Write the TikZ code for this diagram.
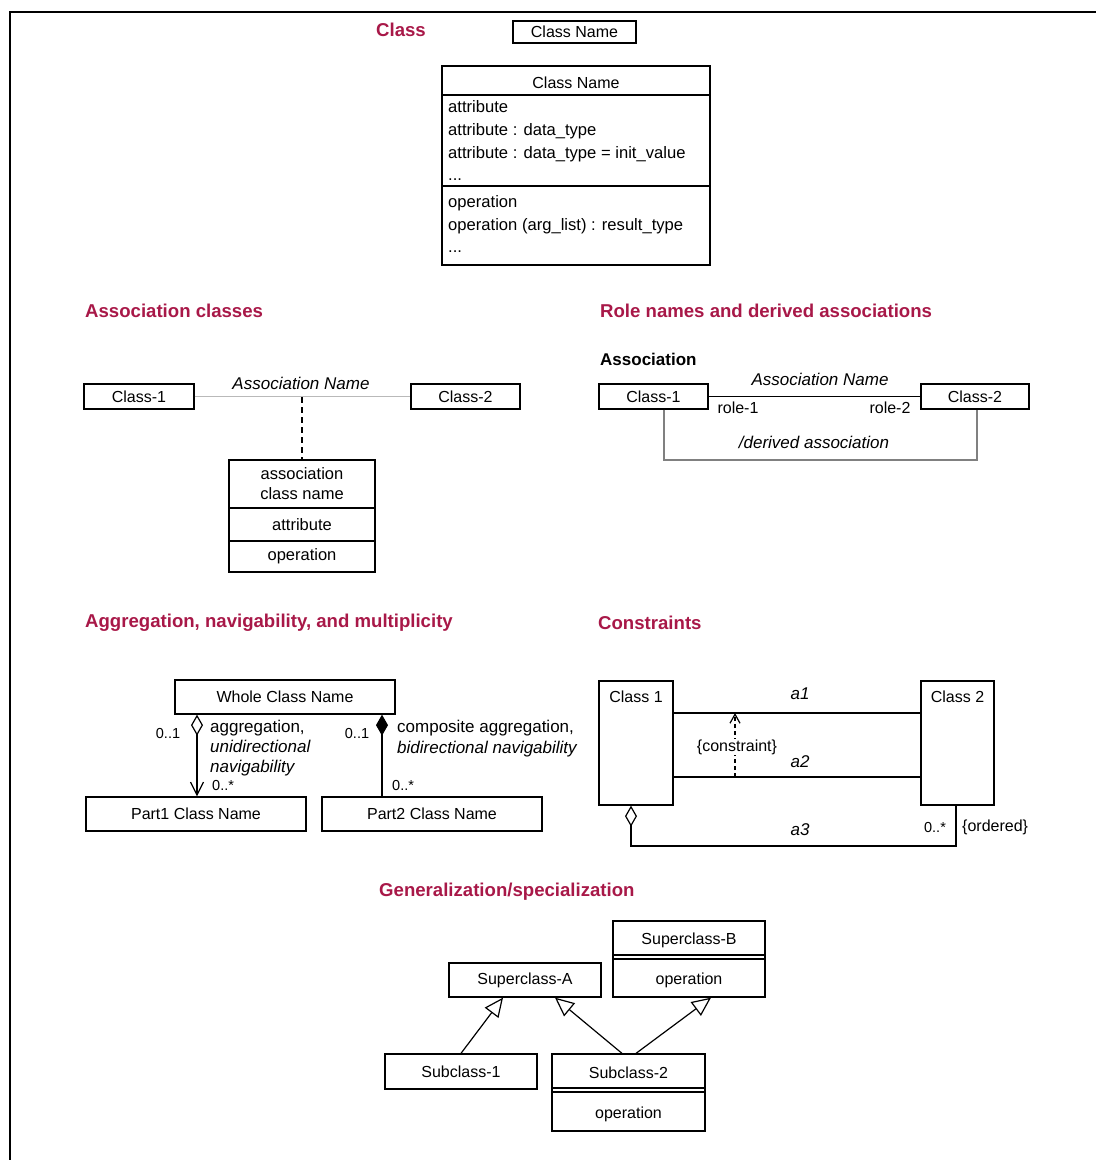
\documentclass[tikz,border=0pt]{standalone}
\usepackage{fontspec}
\setmainfont{Liberation Sans}
\usetikzlibrary{arrows.meta}
\definecolor{titlered}{RGB}{168,24,72}

\begin{document}
\begin{tikzpicture}[x=1pt,y=-1pt,
  font=\fontsize{16}{19}\selectfont,
  box/.style={draw,line width=1.3pt,inner sep=0pt},
  heading/.style={anchor=west,inner sep=0pt,text=titlered,font=\fontsize{18.6}{21}\selectfont\bfseries},
  lbl/.style={inner sep=0pt},
  itl/.style={inner sep=0pt,font=\fontsize{17}{20}\selectfont\itshape},
  mult/.style={inner sep=0pt,font=\fontsize{14.5}{17}\selectfont},
  conn/.style={line width=1.2pt},
  gen/.style={conn,-{Triangle[open,length=19pt,width=17pt]}}]
\useasboundingbox (0,0) rectangle (1096,1160);
\draw[line width=2.5pt] (10,1160) -- (10,12) -- (1096,12);

% class
\node[heading] (tClass) at (376,30) {Class};
\node[box,minimum width=123pt,minimum height=22pt] (cn) at (574.5,32) {Class Name};
\node[box,minimum width=268pt,minimum height=199pt] (full) at (576,165.5) {};
\node[lbl] (fullname) at (576,83) {Class Name};
\draw[conn] (full.west |- 0,95) -- (full.east |- 0,95);
\draw[conn] (full.west |- 0,186) -- (full.east |- 0,186);
\foreach \y/\txt in {112/attribute,135/{attribute : data\_type},158/{attribute : data\_type = init\_value},180/{...},
                      207/operation,230/{operation (arg\_list) : result\_type},252/{...}}
  \node[lbl,anchor=base west,font=\fontsize{16.6}{19}\selectfont] (row\y) at (448,\y) {\txt};

% association classes
\node[heading] (tAssoc) at (85,311) {Association classes};
\node[box,minimum width=110pt,minimum height=25pt] (c1) at (139,396.5) {Class-1};
\node[box,minimum width=109pt,minimum height=25pt] (c2) at (465.5,396.5) {Class-2};
\draw[line width=1.8pt,gray!55] (c1) -- (c2);
\node[itl] (aname) at (301,383) {Association Name};
\coordinate (amid) at (302,397);
\node[box,minimum width=146pt,minimum height=112pt] (acls) at (302,516) {};
\draw[conn,dash pattern=on 6pt off 4pt] (amid) -- (acls.north);
\draw[conn] (acls.west |- 0,508) -- (acls.east |- 0,508);
\draw[conn] (acls.west |- 0,541) -- (acls.east |- 0,541);
\node[lbl,align=center,font=\fontsize{16.5}{20}\selectfont] (aclsname) at (302,484) {association\\class name};
\node[lbl,font=\fontsize{16.5}{20}\selectfont] (aclsattr) at (302,525) {attribute};
\node[lbl,font=\fontsize{16.5}{20}\selectfont] (aclsop) at (302,556) {operation};

% role names
\node[heading] (tRole) at (600,311) {Role names and derived associations};
\node[anchor=west,inner sep=0pt,font=\fontsize{17}{20}\selectfont\bfseries] (tAssocB) at (600,359) {Association};
\node[box,minimum width=109pt,minimum height=25pt] (r1) at (653.5,396.5) {Class-1};
\node[box,minimum width=108pt,minimum height=25pt] (r2) at (975,396.5) {Class-2};
\draw[conn] (r1) -- (r2);
\node[itl] (rname) at (820,379) {Association Name};
\node[lbl] (role1) at (738,408) {role-1};
\node[lbl] (role2) at (890,408) {role-2};
\coordinate (d1) at (664,460);
\coordinate (d2) at (977,460);
\draw[conn,gray] (r1.south -| d1) -- (d1) -- (d2) -- (r2.south -| d2);
\node[itl] (dname) at (814,442) {/derived association};

% aggregation
\node[heading] (tAggr) at (85,623) {Aggregation, navigability, and multiplicity};
\node[box,minimum width=220pt,minimum height=34pt] (whole) at (285,697) {Whole Class Name};
\node[box,minimum width=220pt,minimum height=34pt] (part1) at (196,814) {Part1 Class Name};
\node[box,minimum width=220pt,minimum height=34pt] (part2) at (432,814) {Part2 Class Name};
\coordinate (agg) at (197,0);
\coordinate (cmp) at (382,0);
\draw[conn,{Diamond[open,length=21pt,width=12pt]}-{Straight Barb[length=13pt,width=13pt]}] (whole.south -| agg) -- (part1.north -| agg);
\draw[conn,{Diamond[length=21pt,width=12pt]}-] (whole.south -| cmp) -- (part2.north -| cmp);
\node[mult] (m1) at (168,733) {0..1};
\node[mult,anchor=west] (m2) at (212,785) {0..*};
\node[mult] (m3) at (357,733) {0..1};
\node[mult,anchor=west] (m4) at (392,785) {0..*};
\node[lbl,anchor=base west,font=\fontsize{17}{20}\selectfont] (agtxt) at (210,732) {aggregation,};
\node[itl,anchor=base west] (agtxt2) at (210,752) {unidirectional};
\node[itl,anchor=base west] (agtxt3) at (210,772) {navigability};
\node[lbl,anchor=base west,font=\fontsize{17}{20}\selectfont] (cmtxt) at (397,732) {composite aggregation,};
\node[itl,anchor=base west] (cmtxt2) at (397,753) {bidirectional navigability};

% constraints
\node[heading] (tCons) at (598,623) {Constraints};
\node[box,minimum width=74pt,minimum height=124pt] (k1) at (636,743) {};
\node[box,minimum width=73pt,minimum height=124pt] (k2) at (957.5,743) {};
\node[lbl] (k1name) at (636,697) {Class 1};
\node[lbl] (k2name) at (957.5,697) {Class 2};
\coordinate (ya1) at (0,713);
\coordinate (ya2) at (0,777);
\draw[conn] (k1.east |- ya1) -- (k2.west |- ya1);
\draw[conn] (k1.east |- ya2) -- (k2.west |- ya2);
\node[itl] (a1) at (800,694) {a1};
\node[itl] (a2) at (800,762) {a2};
\coordinate (cb) at (735,777);
\coordinate (ct) at (735,713);
\draw[conn,dash pattern=on 4pt off 3pt,-{Straight Barb[length=9pt,width=10pt]}] (cb) -- (ct);
\node[lbl,fill=white,inner sep=1pt] (cons) at (737,747) {\{constraint\}};
\coordinate (k3a) at (631,846);
\coordinate (k3b) at (956,846);
\draw[conn,{Diamond[open,length=21pt,width=12pt]}-] (k1.south -| k3a) -- (k3a) -- (k3b) -- (k2.south -| k3b);
\node[itl] (a3) at (800,830) {a3};
\node[mult] (m5) at (935,827) {0..*};
\node[lbl,anchor=west] (ord) at (962,827) {\{ordered\}};

% generalization
\node[heading] (tGen) at (379,892) {Generalization/specialization};
\node[box,minimum width=152pt,minimum height=34pt] (supA) at (525,980) {Superclass-A};
\node[box,minimum width=152pt,minimum height=76pt] (supB) at (689,959) {};
\node[lbl] (supBname) at (689,940) {Superclass-B};
\node[lbl] (supBop) at (689,980) {operation};
\draw[conn] (supB.west |- 0,955) -- (supB.east |- 0,955);
\draw[conn] (supB.west |- 0,959) -- (supB.east |- 0,959);
\node[box,minimum width=152pt,minimum height=35pt] (sub1) at (461,1071.5) {Subclass-1};
\node[box,minimum width=153pt,minimum height=77pt] (sub2) at (628.5,1092.5) {};
\node[lbl] (sub2name) at (628.5,1073) {Subclass-2};
\node[lbl] (sub2op) at (628.5,1114) {operation};
\draw[conn] (sub2.west |- 0,1088) -- (sub2.east |- 0,1088);
\draw[conn] (sub2.west |- 0,1092) -- (sub2.east |- 0,1092);
\draw[gen] (sub1.north) -- ([xshift=-22pt]supA.south);
\draw[gen] ([xshift=-6.5pt]sub2.north) -- ([xshift=30pt]supA.south);
\draw[gen] ([xshift=7.5pt]sub2.north) -- ([xshift=22pt]supB.south);
\end{tikzpicture}
\end{document}
